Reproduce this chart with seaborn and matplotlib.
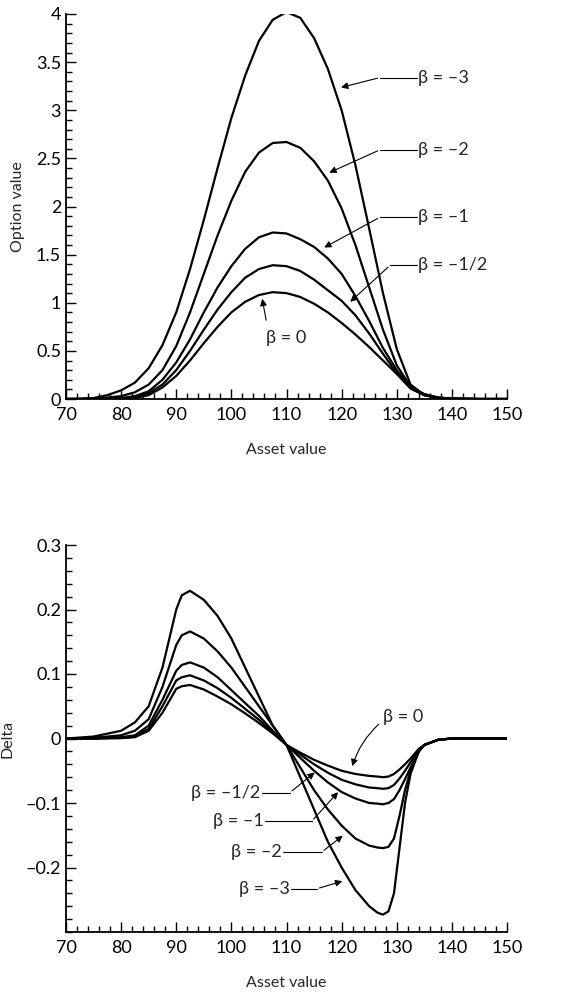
import numpy as np
import seaborn as sns
import matplotlib.pyplot as plt
import matplotlib.ticker as ticker

# ---- option value (top panel) ----
x_top = [70, 72.5, 75, 77.5, 80, 82.5, 85, 87.5, 90, 92.5, 95, 97.5, 100, 102.5, 105,
         107.5, 110, 112.5, 115, 117.5, 120, 122.5, 125, 127.5, 130, 132.5, 135,
         137.5, 140, 145, 150]
v_m3 = [0, 0.003, 0.01, 0.04, 0.09, 0.17, 0.32, 0.56, 0.9, 1.35, 1.86, 2.4, 2.92, 3.36, 3.72,
        3.94, 4.02, 3.96, 3.75, 3.43, 3.0, 2.43, 1.77, 1.1, 0.52, 0.15, 0.04, 0.01, 0.003, 0, 0]
v_m2 = [0, 0.001, 0.005, 0.015, 0.03, 0.07, 0.15, 0.3, 0.55, 0.9, 1.3, 1.7, 2.06, 2.36, 2.56,
        2.66, 2.67, 2.61, 2.47, 2.27, 1.98, 1.6, 1.16, 0.72, 0.35, 0.13, 0.05, 0.015, 0.005, 0, 0]
v_m1 = [0, 0, 0.001, 0.004, 0.01, 0.03, 0.08, 0.2, 0.38, 0.62, 0.9, 1.16, 1.38, 1.56, 1.68,
        1.73, 1.72, 1.66, 1.58, 1.46, 1.3, 1.07, 0.81, 0.53, 0.3, 0.12, 0.05, 0.015, 0.004, 0, 0]
v_mh = [0, 0, 0, 0.002, 0.006, 0.02, 0.06, 0.15, 0.3, 0.5, 0.72, 0.93, 1.11, 1.26, 1.35,
        1.39, 1.38, 1.33, 1.24, 1.13, 1.02, 0.87, 0.68, 0.47, 0.27, 0.11, 0.04, 0.012, 0.003, 0, 0]
v_0 = [0, 0, 0, 0.001, 0.003, 0.01, 0.04, 0.12, 0.24, 0.4, 0.58, 0.75, 0.9, 1.01, 1.08,
       1.11, 1.1, 1.06, 0.99, 0.9, 0.79, 0.67, 0.54, 0.4, 0.26, 0.11, 0.04, 0.01, 0.003, 0, 0]

# ---- delta (bottom panel) ----
x_bot = [70, 75, 80, 82.5, 85, 87.5, 90, 91, 92.5, 95, 97.5, 100, 102.5, 105, 107.5, 110,
         112.5, 115, 117.5, 120, 122.5, 125, 126.5, 127.5, 128.5, 129.5, 130.5, 131.5,
         132.5, 134, 135, 137.5, 140, 150]
d_m3 = [0, 0.003, 0.012, 0.025, 0.05, 0.11, 0.2, 0.222, 0.229, 0.215, 0.19, 0.155, 0.11, 0.065,
        0.02, -0.01, -0.06, -0.11, -0.16, -0.2, -0.235, -0.26, -0.27, -0.273, -0.268, -0.24,
        -0.17, -0.1, -0.055, -0.02, -0.01, -0.002, 0, 0]
d_m2 = [0, 0.001, 0.005, 0.012, 0.03, 0.08, 0.145, 0.16, 0.166, 0.155, 0.135, 0.11, 0.08, 0.05,
        0.02, -0.01, -0.045, -0.08, -0.11, -0.135, -0.155, -0.166, -0.169, -0.17, -0.168,
        -0.155, -0.12, -0.08, -0.05, -0.02, -0.01, -0.002, 0, 0]
d_m1 = [0, 0, 0.002, 0.005, 0.02, 0.06, 0.105, 0.114, 0.118, 0.11, 0.095, 0.075, 0.055, 0.035,
        0.012, -0.01, -0.03, -0.05, -0.068, -0.083, -0.093, -0.1, -0.101, -0.102, -0.1,
        -0.094, -0.08, -0.063, -0.045, -0.02, -0.01, -0.002, 0, 0]
d_mh = [0, 0, 0.001, 0.003, 0.015, 0.05, 0.09, 0.095, 0.098, 0.09, 0.078, 0.063, 0.046, 0.029,
        0.01, -0.01, -0.025, -0.04, -0.053, -0.064, -0.071, -0.076, -0.077, -0.078, -0.077,
        -0.072, -0.062, -0.05, -0.037, -0.018, -0.01, -0.002, 0, 0]
d_0 = [0, 0, 0.0005, 0.002, 0.012, 0.04, 0.077, 0.081, 0.083, 0.076, 0.065, 0.053, 0.039,
       0.024, 0.008, -0.01, -0.022, -0.033, -0.042, -0.05, -0.055, -0.058, -0.059, -0.06,
       -0.059, -0.055, -0.048, -0.04, -0.031, -0.016, -0.01, -0.002, 0, 0]

labels = ["β = –3", "β = –2", "β = –1", "β = –1/2", "β = 0"]

sns.set_theme(style="ticks")
plt.rcParams["font.family"] = ["Lato", "DejaVu Sans"]

fig = plt.figure(figsize=(5.74, 9.93), dpi=100)
ax1 = fig.add_axes([66 / 574, 1 - 399 / 993, 441 / 574, 385 / 993])
ax2 = fig.add_axes([66 / 574, 1 - 932 / 993, 441 / 574, 387 / 993])

for vals in [v_m3, v_m2, v_m1, v_mh, v_0]:
    sns.lineplot(x=x_top, y=vals, ax=ax1, color="black", linewidth=1.6)
for vals in [d_m3, d_m2, d_m1, d_mh, d_0]:
    sns.lineplot(x=x_bot, y=vals, ax=ax2, color="black", linewidth=1.6)


def fmt(v, pos):
    s = ("%g" % round(v, 3))
    return s.replace("-", "–")


for ax in (ax1, ax2):
    ax.set_xlim(70, 150)
    ax.xaxis.set_major_locator(ticker.MultipleLocator(10))
    ax.xaxis.set_minor_locator(ticker.MultipleLocator(2))
    ax.yaxis.set_major_formatter(ticker.FuncFormatter(fmt))
    ax.tick_params(which="both", direction="in", colors="black", labelsize=13, width=1)
    ax.tick_params(which="major", length=7)
    ax.tick_params(which="minor", length=4)
    ax.tick_params(axis="x", pad=6)
    sns.despine(ax=ax)
    for sp in ax.spines.values():
        sp.set_linewidth(1.3)
        sp.set_color("black")
    ax.set_xlabel("Asset value", fontsize=11.5, labelpad=14)

ax1.set_ylim(0, 4)
ax1.yaxis.set_major_locator(ticker.MultipleLocator(0.5))
ax1.yaxis.set_minor_locator(ticker.MultipleLocator(0.1))
ax1.set_ylabel("Option value", fontsize=11.5, labelpad=8)

ax2.set_ylim(-0.3, 0.3)
ax2.set_yticks([-0.2, -0.1, 0, 0.1, 0.2, 0.3])
ax2.yaxis.set_minor_locator(ticker.MultipleLocator(0.02))
ax2.set_ylabel("Delta", fontsize=11.5, labelpad=8)

thin = dict(color="black", linewidth=0.8)
arrow = dict(arrowstyle="-|>", color="black", linewidth=0.8, mutation_scale=10)

# top labels: text pos, corner, arrow tip
top_ann = [
    (labels[0], 133.9, 3.34, 127.0, (119.4, 3.23)),
    (labels[1], 133.9, 2.59, 127.0, (117.3, 2.34)),
    (labels[2], 133.9, 1.89, 127.0, (116.4, 1.56)),
    (labels[3], 133.9, 1.39, 128.8, (121.2, 0.99)),
]
for txt, tx, ty, cx, tip in top_ann:
    ax1.text(tx, ty, txt, fontsize=13, va="center", ha="left")
    ax1.plot([cx, tx - 0.3], [ty, ty], **thin)
    ax1.annotate("", xy=tip, xytext=(cx, ty), arrowprops=arrow)
ax1.text(110, 0.63, labels[4], fontsize=13, ha="center", va="center")
ax1.annotate("", xy=(105.5, 1.07), xytext=(106.4, 0.79), arrowprops=arrow)

# bottom labels
ax2.text(127.5, 0.034, labels[4], fontsize=13, ha="left", va="center")
ax2.annotate("", xy=(121.8, -0.047), xytext=(127.1, 0.025),
             arrowprops=dict(arrow, connectionstyle="arc3,rad=0.15"))
bot_ann = [
    (labels[3], 105.2, -0.084, 110.6, (115.5, -0.05)),
    (labels[2], 105.8, -0.128, 114.6, (119.7, -0.08)),
    (labels[1], 109.1, -0.176, 116.4, (120.6, -0.148)),
    (labels[0], 110.6, -0.233, 115.5, (120.6, -0.22)),
]
for txt, tx, ty, cx, tip in bot_ann:
    ax2.text(tx, ty, txt, fontsize=13, va="center", ha="right")
    ax2.plot([tx + 0.3, cx], [ty, ty], **thin)
    ax2.annotate("", xy=tip, xytext=(cx, ty), arrowprops=arrow)

fig.savefig("out.png", dpi=100)
